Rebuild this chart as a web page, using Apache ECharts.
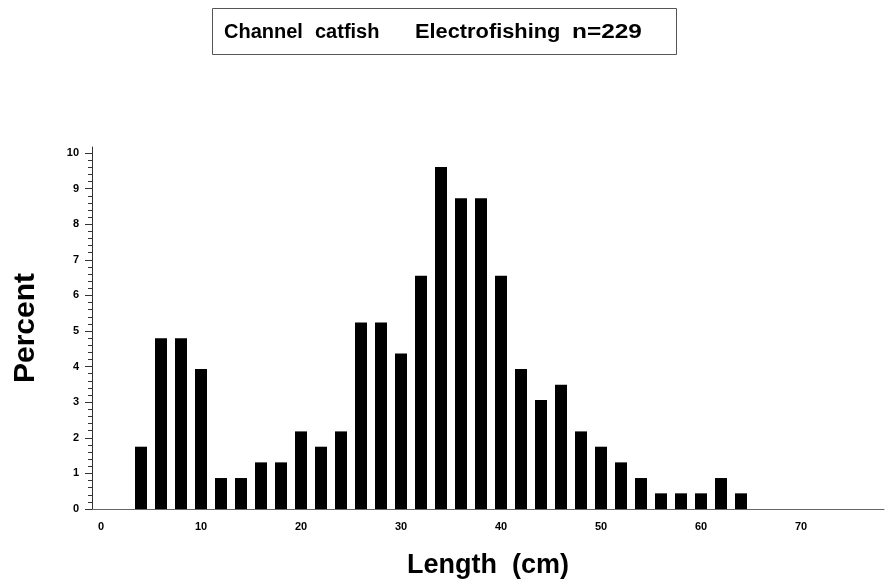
<!DOCTYPE html>
<html>
<head>
<meta charset="utf-8">
<script src="https://cdn.jsdelivr.net/npm/echarts@6/dist/echarts.min.js"></script>
<style>
html,body{margin:0;padding:0;background:#fff;}
#chart{width:885px;height:583px;}
</style>
</head>
<body>
<div id="chart"></div>
<script>
// Data
const titleWords = ['Channel', 'catfish', 'Electrofishing', 'n=229'];
const lengths = [4, 6, 8, 10, 12, 14, 16, 18, 20, 22, 24, 26, 28, 30, 32, 34, 36, 38, 40, 42, 44, 46, 48, 50, 52, 54, 56, 58, 60, 62, 64];
const percents = [1.75, 4.80, 4.80, 3.93, 0.87, 0.87, 1.31, 1.31, 2.18, 1.75, 2.18, 5.24, 5.24, 4.37, 6.55, 9.61, 8.73, 8.73, 6.55, 3.93, 3.06, 3.49, 2.18, 1.75, 1.31, 0.87, 0.44, 0.44, 0.44, 0.87, 0.44];
const xTickLabels = [0, 10, 20, 30, 40, 50, 60, 70];
const yTickLabels = [0, 1, 2, 3, 4, 5, 6, 7, 8, 9, 10];
const xName = 'Length  (cm)';
const yName = 'Percent';

const yMinor = [];
for (let i = 0; i <= 50; i++) yMinor.push(+(i * 0.2).toFixed(1));

const FONT = '"Liberation Sans", Arial, Helvetica, sans-serif';
const chart = echarts.init(document.getElementById('chart'), null, {renderer: 'canvas'});

const X_MIN = -0.9, X_MAX = 78.3, Y_MIN = 0, Y_MAX = 10.17;

// title word placement (left x, horizontal stretch)
const titleLayout = [[224, 1.0], [315, 1.0], [415, 1.09], [572, 1.22]];

const graphics = [
  {type: 'rect', shape: {x: 212.5, y: 8.5, width: 464, height: 46}, style: {fill: '#fff', stroke: '#555', lineWidth: 1}}
];
titleWords.forEach((w, i) => {
  graphics.push({
    type: 'text', x: titleLayout[i][0], y: 32, scaleX: titleLayout[i][1],
    style: {text: w, fill: '#000', font: 'bold 20px ' + FONT, textAlign: 'left', textVerticalAlign: 'middle'}
  });
});

chart.setOption({
  animation: false,
  backgroundColor: '#fff',
  graphic: graphics,
  grid: {left: 92, right: 1, top: 147, bottom: 74, containLabel: false, outerBoundsMode: 'none'},
  xAxis: {
    type: 'value', min: X_MIN, max: X_MAX,
    name: xName, nameLocation: 'middle', nameGap: 43, nameMoveOverlap: false,
    nameTextStyle: {fontFamily: FONT, fontWeight: 'bold', fontSize: 27, color: '#000'},
    axisLine: {show: true, onZero: false, lineStyle: {color: '#666', width: 1}},
    axisTick: {show: false},
    splitLine: {show: false},
    axisLabel: {customValues: xTickLabels, fontFamily: FONT, fontWeight: 'bold', fontSize: 11, color: '#000', margin: 12}
  },
  yAxis: [
    {
      type: 'value', min: Y_MIN, max: Y_MAX, offset: 0,
      name: yName, nameLocation: 'middle', nameGap: 51, nameRotate: 90, nameMoveOverlap: false,
      nameTextStyle: {fontFamily: FONT, fontWeight: 'bold', fontSize: 30, color: '#000'},
      axisLine: {show: true, onZero: false, lineStyle: {color: '#333', width: 1}},
      axisTick: {show: true, customValues: yTickLabels, length: 7, lineStyle: {color: '#333'}},
      splitLine: {show: false},
      axisLabel: {customValues: yTickLabels, fontFamily: FONT, fontWeight: 'bold', fontSize: 11, color: '#000', margin: 13}
    },
    {
      type: 'value', min: Y_MIN, max: Y_MAX, position: 'left', offset: 0,
      axisLine: {show: false, onZero: false},
      axisTick: {show: true, customValues: yMinor, length: 4, lineStyle: {color: '#333'}},
      axisLabel: {show: false},
      splitLine: {show: false}
    }
  ],
  series: [{
    type: 'bar',
    yAxisIndex: 0,
    barWidth: 12,
    itemStyle: {color: '#000'},
    data: lengths.map((l, i) => [l, percents[i]])
  }]
});
</script>
</body>
</html>
